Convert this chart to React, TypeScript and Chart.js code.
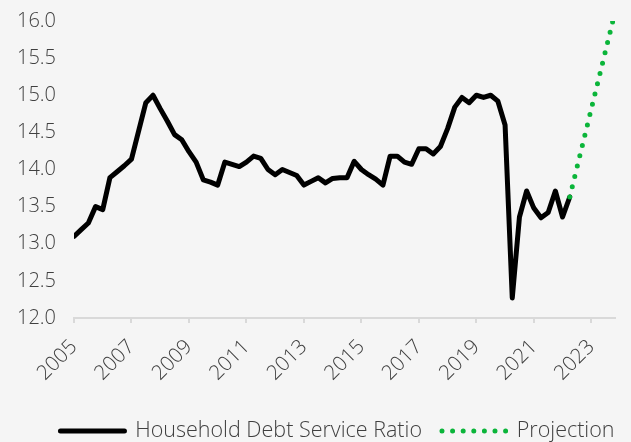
import React, { useEffect, useRef } from "react";
import { Chart, registerables } from "chart.js";

Chart.register(...registerables);

// Quarterly data, first point = 2005 Q1
const startYear = 2005;
const yearLabels = ["2005", "2007", "2009", "2011", "2013", "2015", "2017", "2019", "2021", "2023"];

const householdDebtServiceRatio = [
  13.1, 13.19, 13.28, 13.5, 13.46, 13.89, 13.97, 14.05,
  14.14, 14.52, 14.9, 15.0, 14.82, 14.65, 14.47, 14.4,
  14.24, 14.1, 13.86, 13.83, 13.79, 14.1, 14.07, 14.04,
  14.1, 14.18, 14.15, 14.0, 13.93, 14.0, 13.96, 13.92,
  13.79, 13.84, 13.89, 13.82, 13.88, 13.89, 13.89, 14.11,
  14.0, 13.93, 13.87, 13.79, 14.18, 14.18, 14.1, 14.07,
  14.28, 14.28, 14.21, 14.31, 14.55, 14.84, 14.97, 14.9,
  15.0, 14.97, 15.0, 14.92, 14.6, 12.27, 13.36, 13.71,
  13.48, 13.35, 13.42, 13.71, 13.36, 13.63,
];

const projectionQuarterIndex = [69, 75];
const projectionValues = [13.63, 16.0];

const yMin = 12;
const yMax = 16;
const yStep = 0.5;

const FONT = "'Open Sans', 'DejaVu Sans', sans-serif";
const WEIGHT = "350";
const TEXT = "#404040";
const AXIS = "#d9d9d9";

// nudges the centred legend row to the right, as in the reference
const legendShift = {
  id: "legendShift",
  afterLayout(chart: any) {
    const l = chart.legend;
    if (l) {
      l.left += 22;
      l.right += 22;
    }
  },
};

export default function App() {
  const ref = useRef<HTMLCanvasElement | null>(null);

  useEffect(() => {
    document.body.style.margin = "0";
    document.body.style.background = "#f5f5f5";
    const canvas = ref.current;
    if (!canvas) return;

    const chart = new Chart(canvas, {
      type: "line",
      data: {
        datasets: [
          {
            label: "Household Debt Service Ratio",
            data: householdDebtServiceRatio.map((v, i) => ({ x: i, y: v })),
            borderColor: "#000000",
            backgroundColor: "#000000",
            borderWidth: 5,
            borderJoinStyle: "round",
            borderCapStyle: "round",
            pointRadius: 0,
            tension: 0,
            order: 1,
          },
          {
            label: "Projection",
            data: projectionQuarterIndex.map((x, i) => ({ x, y: projectionValues[i] })),
            borderColor: "#0bb53a",
            backgroundColor: "#0bb53a",
            borderWidth: 5,
            borderDash: [0, 10.6],
            borderCapStyle: "round",
            pointRadius: 0,
            tension: 0,
            order: 0,
          },
        ],
      },
      options: {
        animation: false,
        responsive: false,
        maintainAspectRatio: false,
        layout: { padding: { left: 16, right: 16, top: 21, bottom: -9.75 } },
        scales: {
          x: {
            type: "linear",
            min: 0,
            max: 75.3,
            afterBuildTicks: (scale: any) => {
              scale.ticks = scale.ticks.filter((t: any) => t.value % 8 === 0);
            },
            afterFit: (scale: any) => {
              scale.height = 82.25;
            },
            ticks: {
              stepSize: 8,
              includeBounds: false,
              autoSkip: false,
              maxRotation: 45,
              minRotation: 45,
              padding: 12,
              color: TEXT,
              font: { family: FONT, size: 20.5, weight: WEIGHT },
              callback: (value: any) => yearLabels[Math.round(Number(value) / 8)] ?? "",
            },
            grid: {
              display: true,
              drawOnChartArea: false,
              drawTicks: true,
              tickLength: 5,
              color: AXIS,
              lineWidth: 2,
            },
            border: { display: true, color: AXIS, width: 2 },
          },
          y: {
            min: yMin,
            max: yMax,
            afterFit: (scale: any) => {
              scale.width = 58;
            },
            ticks: {
              stepSize: yStep,
              padding: 2,
              color: TEXT,
              font: { family: FONT, size: 20, weight: WEIGHT },
              callback: (value: any) => Number(value).toFixed(1),
            },
            grid: {
              display: true,
              drawOnChartArea: false,
              drawTicks: true,
              tickLength: 16,
              color: "rgba(0,0,0,0)",
            },
            border: { display: false },
          },
        },
        plugins: {
          legend: {
            position: "bottom",
            labels: {
              usePointStyle: true,
              pointStyle: "line",
              pointStyleWidth: 64,
              padding: 20,
              color: TEXT,
              font: { family: FONT, size: 21.5, weight: WEIGHT },
              sort: (a: any, b: any) => a.datasetIndex - b.datasetIndex,
              generateLabels: (c: any) => {
                const items = Chart.defaults.plugins.legend.labels.generateLabels(c);
                return items.map((it: any) => {
                  const ds = c.data.datasets[it.datasetIndex];
                  return {
                    ...it,
                    lineWidth: ds.borderWidth,
                    lineDash: ds.borderDash || [],
                    lineCap: "round",
                    strokeStyle: ds.borderColor,
                  };
                });
              },
            },
          },
          tooltip: { enabled: false },
        },
      },
      plugins: [legendShift],
    } as any);

    return () => chart.destroy();
  }, []);

  return (
    <div style={{ width: 631, height: 442, background: "#f5f5f5" }}>
      <canvas ref={ref} width={631} height={442} style={{ display: "block" }} />
    </div>
  );
}
